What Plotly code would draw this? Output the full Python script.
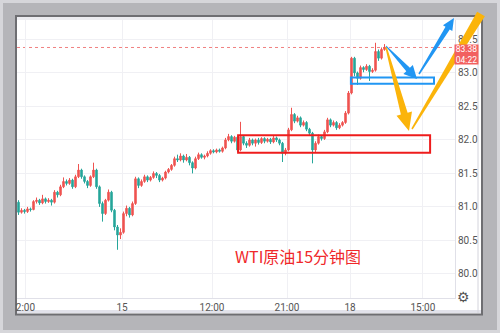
import math
import plotly.graph_objects as go

# ---------------- data (15-minute WTI candles) ----------------
OPEN = [81.07, 80.92, 80.95, 80.93, 80.97, 80.96, 81.08, 81.10, 81.06, 81.12,
        81.08, 81.10, 81.07, 81.22, 81.18, 81.30, 81.38, 81.35, 81.40, 81.30,
        81.45, 81.55, 81.45, 81.38, 81.32, 81.45, 81.55, 81.30, 81.05, 80.90,
        81.10, 81.22, 80.95, 80.70, 80.58, 80.62, 80.90, 80.98, 80.88, 81.05,
        81.42, 81.32, 81.38, 81.45, 81.40, 81.44, 81.50, 81.47, 81.40, 81.43,
        81.52, 81.56, 81.62, 81.72, 81.70, 81.76, 81.70, 81.74, 81.66, 81.58,
        81.72, 81.78, 81.74, 81.76, 81.80, 81.84, 81.82, 81.85, 81.83, 81.88,
        82.00, 82.05, 81.98, 82.04, 81.85, 82.05, 81.95, 81.92, 82.00, 81.95,
        82.00, 81.96, 82.02, 81.98, 82.01, 81.97, 82.03, 82.00, 81.95, 81.80,
        81.85, 82.15, 82.38, 82.28, 82.33, 82.22, 82.26, 82.16, 82.10, 81.85,
        81.95, 82.05, 82.02, 82.12, 82.30, 82.22, 82.26, 82.18, 82.22, 82.26,
        82.40, 82.70, 83.22, 83.00, 82.92, 83.08, 83.05, 83.10, 83.02, 83.04,
        83.32, 83.22, 83.35]
HIGH = [81.10, 80.98, 80.97, 81.00, 80.99, 81.10, 81.14, 81.12, 81.18, 81.14,
        81.13, 81.12, 81.25, 81.24, 81.33, 81.44, 81.41, 81.43, 81.42, 81.48,
        81.64, 81.57, 81.47, 81.40, 81.47, 81.66, 81.57, 81.32, 81.08, 81.12,
        81.26, 81.24, 80.97, 80.73, 80.68, 80.93, 81.02, 81.00, 81.08, 81.45,
        81.44, 81.41, 81.48, 81.47, 81.46, 81.53, 81.52, 81.49, 81.45, 81.54,
        81.58, 81.64, 81.75, 81.78, 81.80, 81.78, 81.79, 81.76, 81.68, 81.75,
        81.81, 81.80, 81.78, 81.83, 81.86, 81.86, 81.87, 81.87, 81.90, 82.03,
        82.09, 82.07, 82.06, 82.06, 82.27, 82.07, 81.98, 82.03, 82.02, 82.02,
        82.03, 82.04, 82.04, 82.03, 82.03, 82.06, 82.05, 82.02, 81.97, 81.88,
        82.18, 82.48, 82.40, 82.36, 82.35, 82.29, 82.28, 82.18, 82.12, 81.98,
        82.08, 82.07, 82.15, 82.33, 82.32, 82.29, 82.28, 82.25, 82.28, 82.43,
        82.73, 83.24, 83.24, 83.02, 83.11, 83.10, 83.13, 83.12, 83.07, 83.45,
        83.35, 83.38, 83.43]
LOW = [80.88, 80.90, 80.90, 80.91, 80.93, 80.95, 81.05, 81.03, 81.04, 81.05,
       81.06, 81.02, 81.05, 81.14, 81.16, 81.28, 81.32, 81.33, 81.27, 81.28,
       81.43, 81.42, 81.35, 81.28, 81.30, 81.43, 81.27, 81.00, 80.78, 80.88,
       81.08, 80.92, 80.65, 80.36, 80.52, 80.60, 80.86, 80.84, 80.86, 81.03,
       81.28, 81.30, 81.36, 81.37, 81.38, 81.42, 81.43, 81.37, 81.38, 81.41,
       81.50, 81.54, 81.60, 81.67, 81.68, 81.66, 81.68, 81.62, 81.50, 81.56,
       81.70, 81.72, 81.71, 81.74, 81.78, 81.80, 81.80, 81.81, 81.81, 81.86,
       81.98, 81.95, 81.96, 81.82, 81.83, 81.92, 81.88, 81.90, 81.92, 81.90,
       81.93, 81.94, 81.95, 81.96, 81.94, 81.95, 81.97, 81.92, 81.67, 81.77,
       81.83, 82.13, 82.25, 82.26, 82.19, 82.20, 82.13, 82.07, 81.65, 81.82,
       81.93, 81.99, 82.00, 82.10, 82.19, 82.20, 82.15, 82.16, 82.20, 82.24,
       82.38, 82.68, 82.95, 82.82, 82.90, 83.01, 83.03, 82.88, 83.00, 83.02,
       83.18, 83.20, 83.33]
CLOSE = [80.92, 80.95, 80.93, 80.97, 80.96, 81.08, 81.10, 81.06, 81.12, 81.08,
         81.10, 81.07, 81.22, 81.18, 81.30, 81.38, 81.35, 81.40, 81.30, 81.45,
         81.55, 81.45, 81.38, 81.32, 81.45, 81.55, 81.30, 81.05, 80.90, 81.10,
         81.22, 80.95, 80.70, 80.58, 80.62, 80.90, 80.98, 80.88, 81.05, 81.42,
         81.32, 81.38, 81.45, 81.40, 81.44, 81.50, 81.47, 81.40, 81.43, 81.52,
         81.56, 81.62, 81.72, 81.70, 81.76, 81.70, 81.74, 81.66, 81.58, 81.72,
         81.78, 81.74, 81.76, 81.80, 81.84, 81.82, 81.85, 81.83, 81.88, 82.00,
         82.05, 81.98, 82.04, 81.85, 82.05, 81.95, 81.92, 82.00, 81.95, 82.00,
         81.96, 82.02, 81.98, 82.01, 81.97, 82.03, 82.00, 81.95, 81.80, 81.85,
         82.15, 82.38, 82.28, 82.33, 82.22, 82.26, 82.16, 82.10, 81.85, 81.95,
         82.05, 82.02, 82.12, 82.30, 82.22, 82.26, 82.18, 82.22, 82.26, 82.40,
         82.70, 83.22, 83.00, 82.92, 83.08, 83.05, 83.10, 83.02, 83.04, 83.32,
         83.22, 83.35, 83.38]

X_TICK_POS = [2.3, 34.5, 64.5, 89.5, 110.5, 134.8]
X_TICK_TEXT = ["2:00", "15", "12:00", "21:00", "18", "15:00"]
Y_TICKS = [80.0, 80.5, 81.0, 81.5, 82.0, 82.5, 83.0, 83.5]
Y_TICK_TEXT = ["80.0", "80.5", "81.0", "81.5", "82.0", "82.5", "83.0", "83.5"]
LAST_PRICE = 83.38
LAST_PRICE_TEXT = "83.38"
COUNTDOWN = "04:22"
RED_ZONE = [81.81, 82.07]
RED_ZONE_X = [73.2, 137.2]
BLUE_ZONE = [82.84, 82.93]
BLUE_ZONE_X = [110.8, 138.5]
TITLE = "WTI原油15分钟图"

# ---------------- layout geometry (pixels) ----------------
W, H = 500, 333
L, R, T, B = 17, 455, 20, 298


def px(x):
    return (x - L) / (R - L)


def py(y):
    return (B - y) / (B - T)


def arrow_path(x0, y0, x1, y1, wt, wn, hw, hl):
    dx, dy = x1 - x0, y1 - y0
    d = math.hypot(dx, dy)
    ux, uy = dx / d, dy / d
    nx, ny = -uy, ux
    bx, by = x1 - ux * hl, y1 - uy * hl
    pts = [(x0 + nx * wt / 2, y0 + ny * wt / 2), (bx + nx * wn / 2, by + ny * wn / 2)]
    if hl > 0:
        pts += [(bx + nx * hw / 2, by + ny * hw / 2), (x1, y1), (bx - nx * hw / 2, by - ny * hw / 2)]
    pts += [(bx - nx * wn / 2, by - ny * wn / 2), (x0 - nx * wt / 2, y0 - ny * wt / 2)]
    return "M " + " L ".join(f"{px(a):.5f},{py(b):.5f}" for a, b in pts) + " Z"


def prect(x0, y0, x1, y1, **kw):
    d = dict(type="rect", xref="paper", yref="paper",
             x0=px(x0), x1=px(x1), y0=py(y1), y1=py(y0))
    d.update(kw)
    return d


RED_UP = "#ef5350"
TEAL_DN = "#26a69a"
BLUE = "#2196f3"
ORANGE = "#fbb40a"

fig = go.Figure()
fig.add_trace(go.Candlestick(
    x=list(range(len(CLOSE))), open=OPEN, high=HIGH, low=LOW, close=CLOSE,
    increasing=dict(line=dict(color=RED_UP, width=1), fillcolor=RED_UP),
    decreasing=dict(line=dict(color=TEAL_DN, width=1), fillcolor=TEAL_DN),
    whiskerwidth=0, hoverinfo="skip", showlegend=False,
))

shapes = [
    # outer frame
    prect(0, 0, 500, 333, fillcolor="#d6d6da", line=dict(width=0), layer="below"),
    prect(3, 3, 497, 330, fillcolor="#b5b5b9", line=dict(width=0), layer="below"),
    prect(16, 16, 482, 314.5, fillcolor="white", line=dict(color="#6e6e72", width=2), layer="below"),
    prect(17, 17, 481, 20, fillcolor="#ececf0", line=dict(width=0), layer="below"),
    prect(17, 310, 481, 313, fillcolor="#e2e2ea", line=dict(width=0), layer="below"),
    dict(type="line", xref="paper", yref="paper", x0=px(478), x1=px(478), y0=py(17), y1=py(313),
         line=dict(color="#d4d4dc", width=1), layer="below"),
    # last price dotted line
    dict(type="line", xref="paper", yref="y", x0=0, x1=1, y0=LAST_PRICE, y1=LAST_PRICE,
         line=dict(color="#f08080", width=1, dash="dot"), layer="below"),
    # zones
    dict(type="rect", xref="x", yref="y", x0=RED_ZONE_X[0], x1=RED_ZONE_X[1],
         y0=RED_ZONE[0], y1=RED_ZONE[1], line=dict(color="#ee1c1c", width=2), layer="above"),
    dict(type="rect", xref="x", yref="y", x0=BLUE_ZONE_X[0], x1=BLUE_ZONE_X[1],
         y0=BLUE_ZONE[0], y1=BLUE_ZONE[1], line=dict(color=BLUE, width=2), layer="above"),
    # arrows
    dict(type="path", xref="paper", yref="paper", path=arrow_path(386, 47, 409, 131, 1.5, 7, 16, 18),
         fillcolor=ORANGE, line=dict(width=0), layer="above"),
    dict(type="path", xref="paper", yref="paper", path=arrow_path(412, 129, 481, 14, 1.5, 9, 0, 0),
         fillcolor=ORANGE, line=dict(width=0), layer="above"),
    dict(type="path", xref="paper", yref="paper", path=arrow_path(386, 46, 417, 79, 1, 5, 13, 13),
         fillcolor=BLUE, line=dict(width=0), layer="above"),
    dict(type="path", xref="paper", yref="paper", path=arrow_path(419, 74, 454, 18, 1.5, 5, 11, 12),
         fillcolor=BLUE, line=dict(width=0), layer="above"),
]

annotations = [
    dict(x=px(466.5), y=py(54.5), xref="paper", yref="paper",
         text=LAST_PRICE_TEXT + "<br>" + COUNTDOWN, showarrow=False,
         bgcolor="#f26060", borderpad=0, width=23, height=19, align="center",
         xanchor="center", yanchor="middle",
         font=dict(family="Roboto", size=8.5, color="white")),
    dict(x=px(298), y=py(270), xref="paper", yref="paper", text=TITLE, showarrow=False,
         font=dict(family="Noto Sans CJK SC", size=16, color="#f0282a")),
    dict(x=px(472), y=py(307), xref="paper", yref="paper", text="⚙", showarrow=False,
         font=dict(family="DejaVu Sans", size=14, color="#555555")),
]

fig.update_layout(
    width=W, height=H,
    margin=dict(l=L, r=W - R, t=T, b=H - B, pad=0),
    paper_bgcolor="#b5b5b9",
    plot_bgcolor="rgba(0,0,0,0)",
    showlegend=False,
    hovermode=False,
    shapes=shapes,
    annotations=annotations,
    xaxis=dict(
        range=[-0.5, 145.5], rangeslider=dict(visible=False),
        tickmode="array", tickvals=X_TICK_POS, ticktext=X_TICK_TEXT,
        showgrid=True, gridcolor="#f0f0f4", gridwidth=1,
        showline=True, linecolor="#e0e0e8", linewidth=1,
        ticks="", zeroline=False,
        tickfont=dict(family="Roboto", size=10, color="#555555"),
    ),
    yaxis=dict(
        range=[79.64, 83.79], side="right",
        tickmode="array", tickvals=Y_TICKS, ticktext=Y_TICK_TEXT,
        showgrid=True, gridcolor="#f0f0f4", gridwidth=1,
        showline=True, linecolor="#e0e0e8", linewidth=1,
        ticks="", zeroline=False,
        tickfont=dict(family="Roboto", size=10, color="#555555"),
    ),
)

fig.write_html("out.html")
